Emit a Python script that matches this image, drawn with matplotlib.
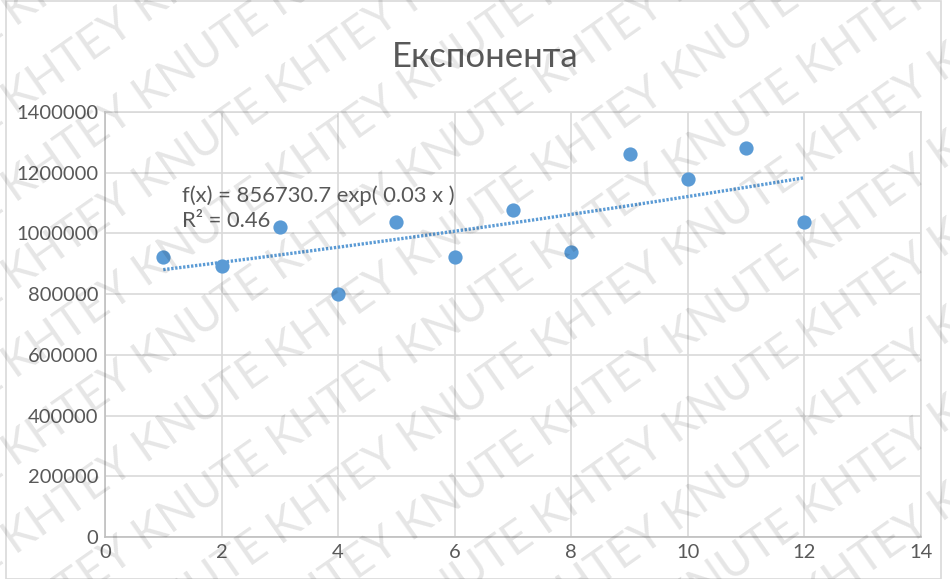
import numpy as np
import matplotlib.pyplot as plt
from matplotlib.ticker import FuncFormatter

plt.rcParams['font.family'] = ['Lato', 'DejaVu Sans']

months = np.arange(1, 13)
values = [922000, 893000, 1021000, 800000, 1037000, 922000,
          1077000, 939000, 1261000, 1179000, 1281000, 1037000]
title = 'Експонента'
fit_label = 'f(x) = 856730.7 exp( 0.03 x )\nR² = 0.46'

blue = '#5b9bd5'
grid_col = '#d9d9d9'
text_col = '#595959'

fig = plt.figure(figsize=(9.5, 5.79), dpi=100)
ax = fig.add_axes([0.1105, 0.0725, 0.859, 0.734])

ax.scatter(months, values, s=105, color=blue, zorder=3, linewidths=0)

# exponential trend line fitted to the data
b, ln_a = np.polyfit(months, np.log(values), 1)
xs = np.linspace(1, 12, 100)
ax.plot(xs, np.exp(ln_a) * np.exp(b * xs), color=blue, linewidth=2.4,
        linestyle=(0, (0.7, 0.5)), zorder=2)

ax.text(1.32, 1158000, fit_label, fontsize=15.8, color=text_col,
        va='top', linespacing=1.3)

ax.set_xlim(0, 14)
ax.set_ylim(0, 1400000)
ax.set_xticks(range(0, 15, 2))
ax.set_yticks(range(0, 1400001, 200000))
ax.yaxis.set_major_formatter(FuncFormatter(lambda v, p: f'{int(v)}'))
ax.grid(True, color=grid_col, linewidth=1.2)
ax.set_axisbelow(True)
for s in ax.spines.values():
    s.set_color(grid_col)
    s.set_linewidth(1.2)
ax.spines['left'].set_color('#bfbfbf')
ax.spines['bottom'].set_color('#bfbfbf')
ax.tick_params(length=0, labelsize=14.5, colors=text_col, pad=5)

fig.text(0.511, 0.902, title, fontsize=25, color=text_col, ha='center', va='center')

# chart area border
fig.patches.append(plt.Rectangle((0.006, 0.0), 0.985, 0.999, transform=fig.transFigure,
                                 fill=False, edgecolor=grid_col, linewidth=1.2))

# watermark, drawn in an overlay axes so it is clipped to the figure
wm = fig.add_axes([0, 0, 1, 1], zorder=10)
wm.set_xlim(0, 950)
wm.set_ylim(0, 579)
wm.axis('off')
wm.patch.set_alpha(0)
row = 'KHTEY KNUTE ' * 7
for i in range(-6, 12):
    wm.text(-250, i * 88 - 250, row, fontsize=33, color='black', alpha=0.1,
            rotation=35, rotation_mode='anchor', ha='left', va='baseline',
            clip_on=True)

fig.savefig('out.png', dpi=100)
